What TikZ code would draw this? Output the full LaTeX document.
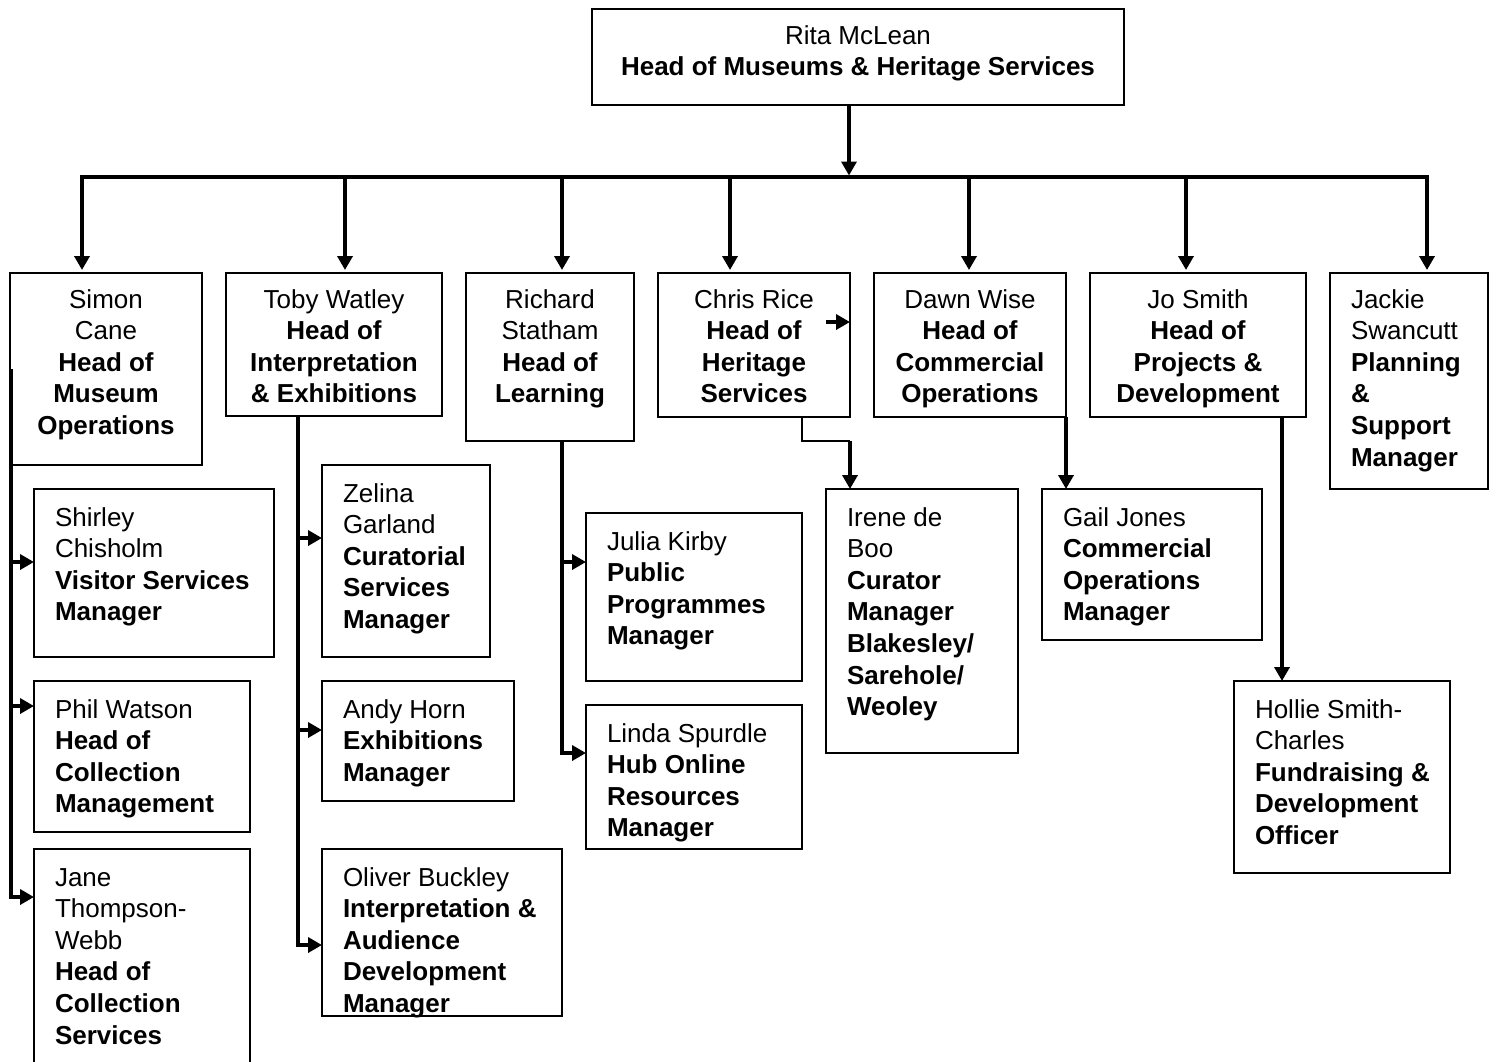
\documentclass[tikz,border=0pt]{standalone}
\usepackage{fontspec}
\setmainfont{Liberation Sans}
\usetikzlibrary{arrows.meta}
\newcommand\orgfont{\fontsize{26}{31.6}\selectfont}
\newcommand\orgleft{\raggedright\leftskip=21pt\relax}
\newcommand\orgbox[8]{\node[obox] (#1) at (#2,#3) {\parbox[t][#5pt][t]{#4pt}{\orgfont #6\par\vspace*{#7pt}\strut #8}};}
\begin{document}
\begin{tikzpicture}[x=1pt,y=-1pt,
  obox/.style={draw, line width=1.6pt, inner sep=0pt, outer sep=0pt, anchor=north west},
  conn/.style={line width=3.5pt, -{Triangle[length=14pt,width=15pt]}},
  bar/.style={line width=3.8pt, line cap=rect},
  thinline/.style={line width=2pt}]
\useasboundingbox (0,0) rectangle (1505,1061);

% boxes
\orgbox{rita}{592}{9}{532}{96}{\centering}{13}{Rita McLean\\ \textbf{Head of Museums \& Heritage Services}}
\orgbox{simon}{10}{273}{192}{192}{\centering}{13}{Simon\\Cane\\{\bfseries Head of\\Museum\\Operations}}
\orgbox{toby}{226}{273}{216}{143}{\centering}{13}{Toby Watley\\{\bfseries Head of\\Interpretation\\\& Exhibitions}}
\orgbox{richard}{466}{273}{168}{168}{\centering}{13}{Richard\\Statham\\{\bfseries Head of\\Learning}}
\orgbox{chris}{658}{273}{192}{144}{\centering}{13}{Chris Rice\\{\bfseries Head of\\Heritage\\Services}}
\orgbox{dawn}{874}{273}{192}{144}{\centering}{13}{Dawn Wise\\{\bfseries Head of\\Commercial\\Operations}}
\orgbox{jo}{1090}{273}{216}{144}{\centering}{13}{Jo Smith\\{\bfseries Head of\\Projects \&\\Development}}
\orgbox{jackie}{1330}{273}{158}{216}{\orgleft}{13}{Jackie\\Swancutt\\{\bfseries Planning\\\&\\Support\\Manager}}

\orgbox{shirley}{34}{489}{240}{168}{\orgleft}{15}{Shirley\\Chisholm\\{\bfseries Visitor Services\\Manager}}
\orgbox{phil}{34}{681}{216}{151}{\orgleft}{15}{Phil Watson\\{\bfseries Head of\\Collection\\Management}}
\orgbox{jane}{34}{849}{216}{224}{\orgleft}{15}{Jane\\Thompson-\\Webb\\{\bfseries Head of\\Collection\\Services}}

\orgbox{zelina}{322}{465}{168}{192}{\orgleft}{15}{Zelina\\Garland\\{\bfseries Curatorial\\Services\\Manager}}
\orgbox{andy}{322}{681}{192}{120}{\orgleft}{15}{Andy Horn\\{\bfseries Exhibitions\\Manager}}
\orgbox{oliver}{322}{849}{240}{167}{\orgleft}{15}{Oliver Buckley\\{\bfseries Interpretation \&\\Audience\\Development\\Manager}}

\orgbox{julia}{586}{513}{216}{168}{\orgleft}{15}{Julia Kirby\\{\bfseries Public\\Programmes\\Manager}}
\orgbox{linda}{586}{705}{216}{144}{\orgleft}{15}{Linda Spurdle\\{\bfseries Hub Online\\Resources\\Manager}}

\orgbox{irene}{826}{489}{192}{264}{\orgleft}{15}{Irene de\\Boo\\{\bfseries Curator\\Manager\\Blakesley/\\Sarehole/\\Weoley}}
\orgbox{gail}{1042}{489}{220}{151}{\orgleft}{15}{Gail Jones\\{\bfseries Commercial\\Operations\\Manager}}
\orgbox{hollie}{1234}{681}{216}{192}{\orgleft}{15}{Hollie Smith-\\Charles\\{\bfseries Fundraising \&\\Development\\Officer}}

% top connector and bus
\coordinate (rt) at (849,105);
\coordinate (b1) at (82,177);
\coordinate (b2) at (345,177);
\coordinate (b3) at (562,177);
\coordinate (b4) at (730,177);
\coordinate (b5) at (969,177);
\coordinate (b6) at (1186,177);
\coordinate (b7) at (1427,177);
\draw[bar] (b1) -- (b7);
\draw[conn, shorten >=1.5pt] (rt) -- (rt |- b1);
\draw[conn, shorten >=3pt] (b1) -- (b1 |- simon.north);
\draw[conn, shorten >=3pt] (b2) -- (b2 |- toby.north);
\draw[conn, shorten >=3pt] (b3) -- (b3 |- richard.north);
\draw[conn, shorten >=3pt] (b4) -- (b4 |- chris.north);
\draw[conn, shorten >=3pt] (b5) -- (b5 |- dawn.north);
\draw[conn, shorten >=3pt] (b6) -- (b6 |- jo.north);
\draw[conn, shorten >=3pt] (b7) -- (b7 |- jackie.north);

% Simon's reports
\coordinate (s0) at (11,369);
\coordinate (s1) at (11,562);
\coordinate (s2) at (11,706);
\coordinate (s3) at (11,897);
\draw[conn] (s0) -- (s3) -- (s3 -| jane.west);
\draw[conn] (s1) -- (s1 -| shirley.west);
\draw[conn] (s2) -- (s2 -| phil.west);

% Toby's reports
\coordinate (t0) at (298,416);
\coordinate (t1) at (298,538);
\coordinate (t2) at (298,730);
\coordinate (t3) at (298,945);
\draw[conn] (t0) -- (t3) -- (t3 -| oliver.west);
\draw[conn] (t1) -- (t1 -| zelina.west);
\draw[conn] (t2) -- (t2 -| andy.west);

% Richard's reports
\coordinate (r0) at (562,441);
\coordinate (r1) at (562,562);
\coordinate (r2) at (562,753);
\draw[conn] (r0) -- (r2) -- (r2 -| linda.west);
\draw[conn] (r1) -- (r1 -| julia.west);

% Chris
\coordinate (ca) at (826,322);
\draw[conn] (ca) -- (ca -| chris.east);
\coordinate (c0) at (802,417);
\coordinate (c1) at (802,441);
\coordinate (c2) at (850,441);
\draw[thinline] (c0) -- (c1) -- (c2);
\draw[conn] (c2) -- (c2 |- irene.north);

% Dawn
\draw[conn] (dawn.south east) -- (dawn.south east |- gail.north);

% Jo
\coordinate (j0) at (1282,417);
\draw[conn] (j0) -- (j0 |- hollie.north);
\end{tikzpicture}
\end{document}
